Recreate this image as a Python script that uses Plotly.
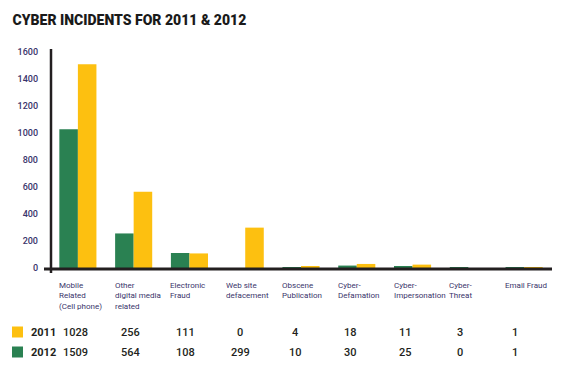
import plotly.graph_objects as go

categories = ["Mobile<br>Related<br>(Cell phone)", "Other<br>digital media<br>related", "Electronic<br>Fraud",
              "Web site<br>defacement", "Obscene<br>Publication", "Cyber-<br>Defamation",
              "Cyber-<br>Impersonation", "Cyber-<br>Threat", "Email Fraud"]
values_2011 = [1028, 256, 111, 0, 4, 18, 11, 3, 1]
values_2012 = [1509, 564, 108, 299, 10, 30, 25, 0, 1]
y_ticks = [0, 200, 400, 600, 800, 1000, 1200, 1400, 1600]
row_labels = ["2011", "2012"]

GREEN = "#2a8152"
YELLOW = "#fdc010"
TEXT_NAVY = "#39346a"

x_idx = list(range(len(categories)))

fig = go.Figure()
fig.add_trace(go.Bar(x=x_idx, y=values_2011, marker=dict(color=GREEN, line=dict(width=0)), name="2011"))
fig.add_trace(go.Bar(x=x_idx, y=values_2012, marker=dict(color=YELLOW, line=dict(width=0)), name="2012"))

W, H = 573, 373
L, R, T, B = 51, 21, 49, 105
PW, PH = W - L - R, H - T - B


def px_to_paper_y(ypx):
    return (H - B - ypx) / PH


def px_to_paper_x(xpx):
    return (xpx - L) / PW


fig.update_layout(
    width=W, height=H,
    margin=dict(l=L, r=R, t=T, b=B, pad=0),
    paper_bgcolor="white", plot_bgcolor="white",
    showlegend=False,
    barmode="group", bargap=0.335, bargroupgap=0,
    title=dict(text="CYBER INCIDENTS FOR 2011 &amp; 2012", x=0.022, xanchor="left",
               y=0.945, yanchor="middle",
               font=dict(family="Roboto", size=14, color="#1a1a1a", weight=900)),
    xaxis=dict(range=[-0.482, 8.5], showticklabels=False, showgrid=False, zeroline=False,
               showline=False, fixedrange=True),
    yaxis=dict(range=[0, 1622], tickvals=y_ticks, ticktext=[str(v) for v in y_ticks],
               showgrid=False, zeroline=False, showline=False, ticks="",
               ticklabelstandoff=12, fixedrange=True,
               tickfont=dict(family="Roboto", size=9, color=TEXT_NAVY, weight=500)),
)

# axis lines
fig.add_shape(type="line", xref="paper", yref="paper", x0=px_to_paper_x(44), x1=px_to_paper_x(552),
              y0=px_to_paper_y(269), y1=px_to_paper_y(269),
              line=dict(color="#231f20", width=3))
fig.add_shape(type="line", xref="paper", yref="paper", x0=0, x1=0, y0=1.0, y1=px_to_paper_y(273),
              line=dict(color="#231f20", width=2.5))

# category labels
for i, c in enumerate(categories):
    fig.add_annotation(x=i, xref="x", y=px_to_paper_y(279), yref="paper", text=c, showarrow=False,
                       xanchor="left", yanchor="top", xshift=-21, align="left",
                       font=dict(family="Roboto", size=8, color=TEXT_NAVY))

# table rows
for r, (lab, vals, col) in enumerate([(row_labels[0], values_2011, YELLOW), (row_labels[1], values_2012, GREEN)]):
    ypx = 332 + r * 20
    yp = px_to_paper_y(ypx)
    fig.add_shape(type="rect", xref="paper", yref="paper",
                  x0=px_to_paper_x(12), x1=px_to_paper_x(23),
                  y0=px_to_paper_y(ypx + 5.5), y1=px_to_paper_y(ypx - 5.5),
                  fillcolor=col, line=dict(width=0))
    fig.add_annotation(x=px_to_paper_x(29), xref="paper", y=yp, yref="paper", text=f"<b>{lab}</b>",
                       showarrow=False, xanchor="left", yanchor="middle",
                       font=dict(family="Roboto", size=11, color="#231f20"))
    for i, v in enumerate(vals):
        fig.add_annotation(x=i - 0.04 - 0.015 * i, xref="x", y=yp, yref="paper", text=str(v),
                           showarrow=False, xanchor="center", yanchor="middle",
                           font=dict(family="Roboto", size=11, color="#231f20", weight=500))

fig.write_html("out.html", config={"displayModeBar": False},
               post_script="document.body.style.margin='0';document.body.style.padding='0';")
